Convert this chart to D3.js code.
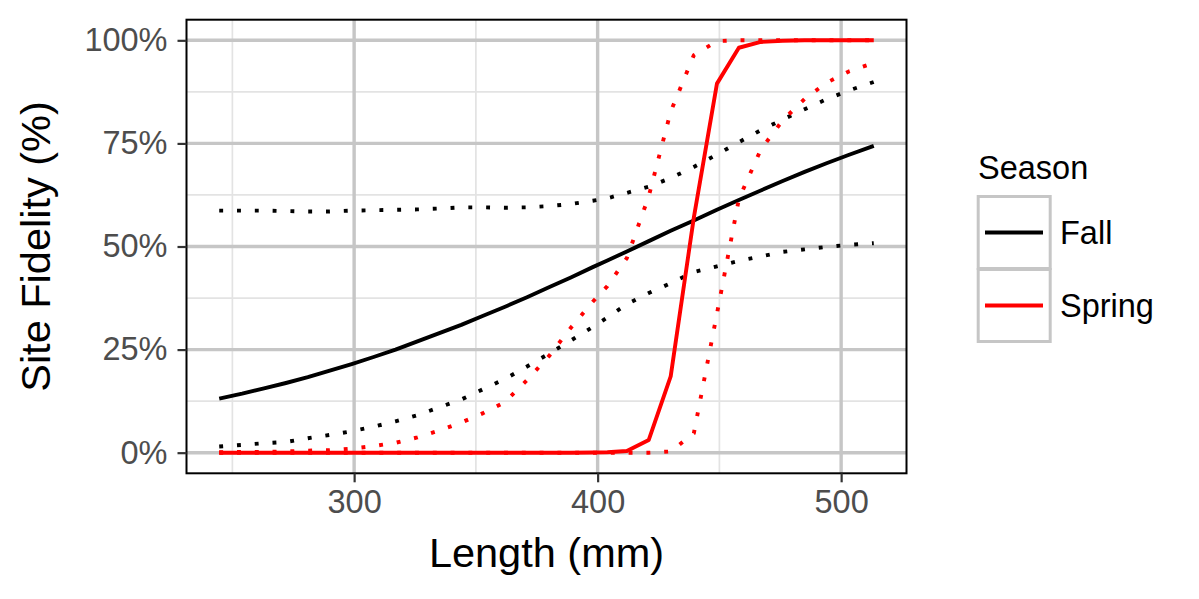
<!DOCTYPE html>
<html>
<head>
<meta charset="utf-8">
<script src="https://cdn.jsdelivr.net/npm/d3@7"></script>
<style>
  html, body { margin: 0; padding: 0; background: #fff; }
  svg { display: block; }
  text { font-family: "Liberation Sans", Arial, sans-serif; }
</style>
</head>
<body>
<svg id="chart" width="1199" height="599"></svg>
<script>
// ---- data ----
const lengths = [244.6, 254, 263, 272, 281, 290, 299, 308, 317, 326, 335, 344, 353, 362, 371, 380, 389, 398, 404, 412, 421, 430, 439.5, 449, 458, 467, 476, 485, 494, 503, 513.4];

const fallFit = [0.131, 0.143, 0.156, 0.169, 0.183, 0.199, 0.215, 0.232, 0.250, 0.270, 0.290, 0.310, 0.332, 0.354, 0.377, 0.401, 0.425, 0.450, 0.466, 0.488, 0.513, 0.538, 0.563, 0.589, 0.613, 0.636, 0.659, 0.681, 0.702, 0.722, 0.744];
const fallUpper = [0.587, 0.587, 0.587, 0.586, 0.585, 0.585, 0.587, 0.588, 0.589, 0.590, 0.592, 0.595, 0.595, 0.594, 0.595, 0.598, 0.603, 0.611, 0.617, 0.630, 0.645, 0.666, 0.693, 0.723, 0.753, 0.782, 0.808, 0.833, 0.857, 0.878, 0.899];
const fallLower = [0.015, 0.019, 0.023, 0.026, 0.035, 0.043, 0.052, 0.063, 0.076, 0.091, 0.110, 0.129, 0.154, 0.179, 0.209, 0.240, 0.272, 0.305, 0.328, 0.360, 0.387, 0.411, 0.438, 0.452, 0.465, 0.476, 0.487, 0.493, 0.499, 0.504, 0.508];

const springFit = [0, 0, 0, 0, 0, 0, 0, 0, 0, 0, 0, 0, 0, 0, 0, 0, 0, 0.0005, 0.001, 0.004, 0.031, 0.185, 0.57, 0.895, 0.982, 0.996, 0.999, 1, 1, 1, 1];
const springUpper = [0.001, 0.002, 0.002, 0.003, 0.005, 0.006, 0.010, 0.016, 0.024, 0.037, 0.054, 0.073, 0.096, 0.123, 0.176, 0.234, 0.303, 0.366, 0.404, 0.472, 0.622, 0.827, 0.964, 0.998, 1, 1, 1, 1, 1, 1, 1];
const springLower = [0, 0, 0, 0, 0, 0, 0, 0, 0, 0, 0, 0, 0, 0, 0, 0, 0, 0, 0, 0, 0, 0.003, 0.047, 0.337, 0.615, 0.735, 0.806, 0.858, 0.897, 0.924, 0.945];

const seasons = ["Fall", "Spring"];
const seasonColors = ["#000000", "#FF0000"];
const xTicks = [300, 400, 500];
const xMinor = [250, 350, 450];
const yTicks = [0, 0.25, 0.5, 0.75, 1];
const yMinor = [0.125, 0.375, 0.625, 0.875];
const yTickLabels = ["0%", "25%", "50%", "75%", "100%"];
const xTitle = "Length (mm)";
const yTitle = "Site Fidelity (%)";
const legendTitle = "Season";

// ---- layout ----
const svg = d3.select("#chart");
const panel = { left: 186.5, right: 906.5, top: 19.7, bottom: 473.3 };

const ext = d3.extent(lengths);
const xPad = (ext[1] - ext[0]) * 0.05;
const x = d3.scaleLinear().domain([ext[0] - xPad, ext[1] + xPad]).range([panel.left, panel.right]);
const y = d3.scaleLinear().domain([-0.05, 1.05]).range([panel.bottom, panel.top]);

const g = svg.append("g");

// minor grid
g.selectAll(".xminor").data(xMinor).join("line")
  .attr("x1", d => x(d)).attr("x2", d => x(d))
  .attr("y1", panel.top).attr("y2", panel.bottom)
  .attr("stroke", "#e3e3e3").attr("stroke-width", 1.7);
g.selectAll(".yminor").data(yMinor).join("line")
  .attr("y1", d => y(d)).attr("y2", d => y(d))
  .attr("x1", panel.left).attr("x2", panel.right)
  .attr("stroke", "#e3e3e3").attr("stroke-width", 1.7);
// major grid
g.selectAll(".xmajor").data(xTicks).join("line")
  .attr("x1", d => x(d)).attr("x2", d => x(d))
  .attr("y1", panel.top).attr("y2", panel.bottom)
  .attr("stroke", "#c6c6c6").attr("stroke-width", 3.4);
g.selectAll(".ymajor").data(yTicks).join("line")
  .attr("y1", d => y(d)).attr("y2", d => y(d))
  .attr("x1", panel.left).attr("x2", panel.right)
  .attr("stroke", "#c6c6c6").attr("stroke-width", 3.4);

// data lines
const line = d3.line().x(d => x(d[0])).y(d => y(d[1]));
const seriesSets = [
  { vals: fallFit, color: seasonColors[0], dotted: false },
  { vals: fallUpper, color: seasonColors[0], dotted: true },
  { vals: fallLower, color: seasonColors[0], dotted: true },
  { vals: springFit, color: seasonColors[1], dotted: false },
  { vals: springUpper, color: seasonColors[1], dotted: true },
  { vals: springLower, color: seasonColors[1], dotted: true }
];
svg.append("clipPath").attr("id", "pclip").append("rect")
  .attr("x", panel.left).attr("y", panel.top)
  .attr("width", panel.right - panel.left).attr("height", panel.bottom - panel.top);
const dg = g.append("g").attr("clip-path", "url(#pclip)");
seriesSets.forEach(s => {
  dg.append("path")
    .datum(lengths.map((l, i) => [l, s.vals[i]]))
    .attr("d", line)
    .attr("fill", "none")
    .attr("stroke", s.color)
    .attr("stroke-width", 3.9)
    .attr("stroke-linejoin", "round")
    .attr("stroke-dasharray", s.dotted ? "3.9 13.9" : null);
});

// panel border
g.append("rect")
  .attr("x", panel.left).attr("y", panel.top)
  .attr("width", panel.right - panel.left).attr("height", panel.bottom - panel.top)
  .attr("fill", "none").attr("stroke", "#000").attr("stroke-width", 2);

// axes (ticks + labels)
const xAxis = d3.axisBottom(x).tickValues(xTicks).tickSize(9).tickPadding(8).tickFormat(d3.format("d"));
const xg = svg.append("g").attr("transform", `translate(0,${panel.bottom})`).call(xAxis);
xg.select(".domain").remove();
xg.selectAll(".tick line").attr("stroke", "#333").attr("stroke-width", 2.2);
xg.selectAll(".tick text").attr("fill", "#4d4d4d").attr("font-size", 32.5)
  .attr("font-family", "Liberation Sans, Arial, sans-serif");

const yAxis = d3.axisLeft(y).tickValues(yTicks).tickSize(9).tickPadding(10)
  .tickFormat((d, i) => yTickLabels[i]);
const yg = svg.append("g").attr("transform", `translate(${panel.left},0)`).call(yAxis);
yg.select(".domain").remove();
yg.selectAll(".tick line").attr("stroke", "#333").attr("stroke-width", 2.2);
yg.selectAll(".tick text").attr("fill", "#4d4d4d").attr("font-size", 32.5)
  .attr("font-family", "Liberation Sans, Arial, sans-serif");

// axis titles
svg.append("text")
  .attr("x", (panel.left + panel.right) / 2).attr("y", 567)
  .attr("text-anchor", "middle").attr("font-size", 41.5).attr("fill", "#000")
  .text(xTitle);
svg.append("text")
  .attr("transform", `translate(50,${(panel.top + panel.bottom) / 2}) rotate(-90)`)
  .attr("text-anchor", "middle").attr("font-size", 41.5).attr("fill", "#000")
  .text(yTitle);

// legend
const lg = svg.append("g");
lg.append("text").attr("x", 978).attr("y", 178.5).attr("font-size", 32.5).attr("fill", "#000").text(legendTitle);
seasons.forEach((s, i) => {
  const top = 196.5 + i * 73;
  lg.append("rect").attr("x", 978.2).attr("y", top).attr("width", 72).attr("height", 72)
    .attr("fill", "#fff").attr("stroke", "#c6c6c6").attr("stroke-width", 3);
  const cy = top + 36;
  lg.append("line").attr("x1", 985).attr("x2", 1043).attr("y1", cy).attr("y2", cy)
    .attr("stroke", seasonColors[i]).attr("stroke-width", 3.9);
  lg.append("text").attr("x", 1060).attr("y", cy).attr("dy", "0.36em")
    .attr("font-size", 32.5).attr("fill", "#000").text(s);
});
</script>
</body>
</html>
